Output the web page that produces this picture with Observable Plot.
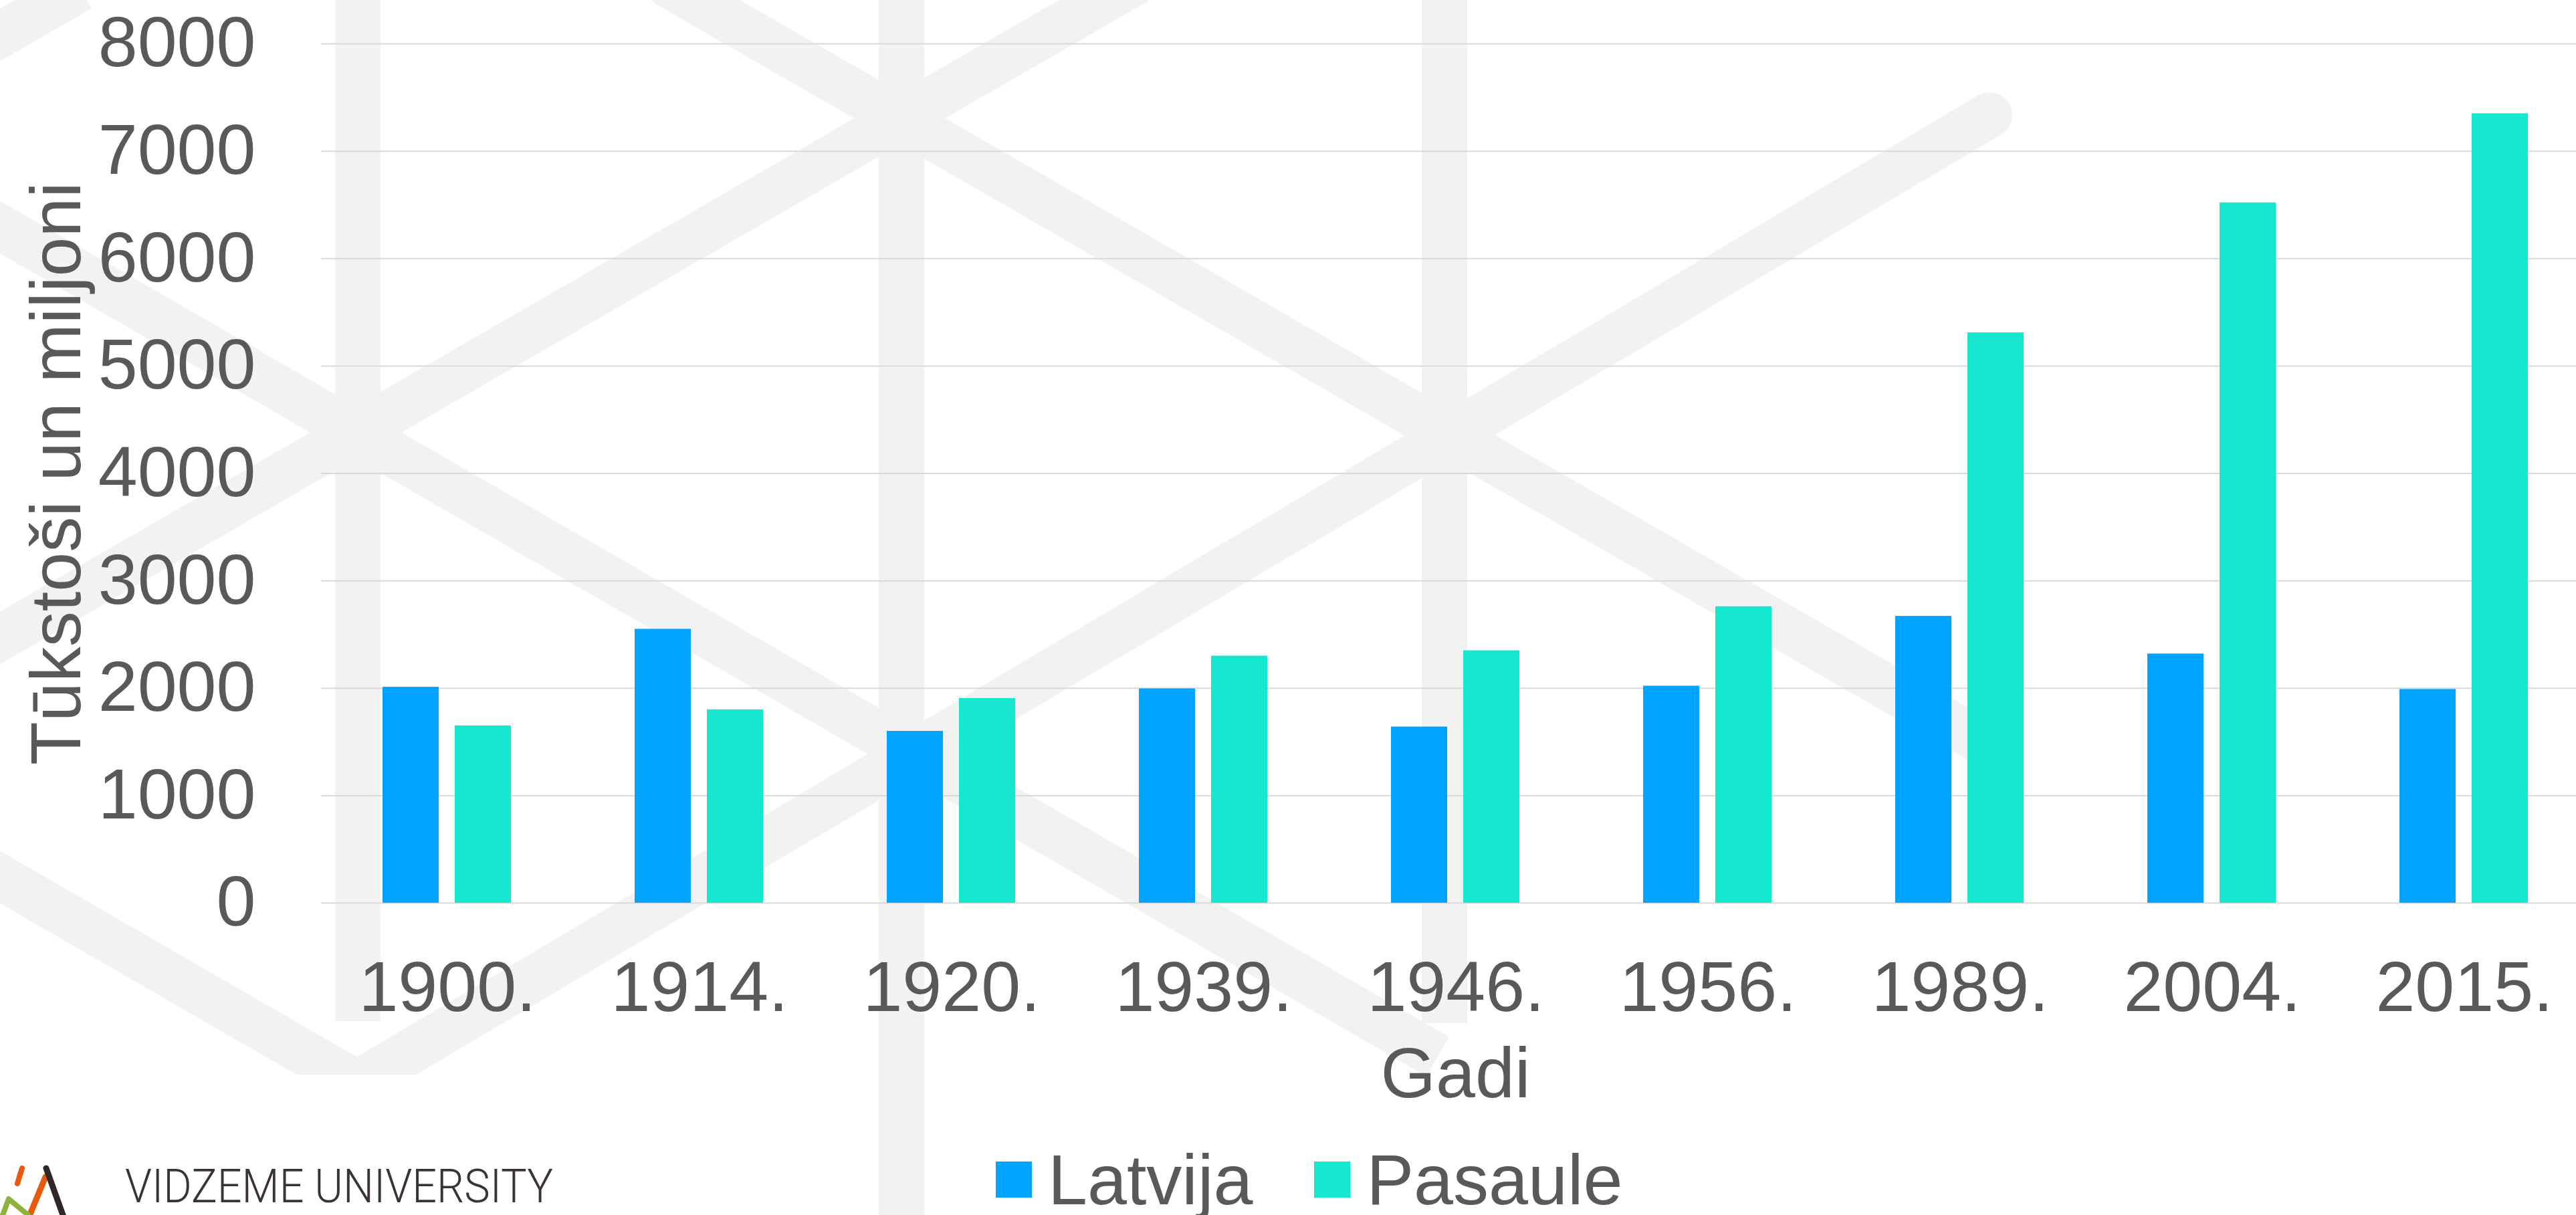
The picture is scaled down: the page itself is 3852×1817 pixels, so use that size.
<!DOCTYPE html>
<html>
<head>
<meta charset="utf-8">
<script src="https://cdn.jsdelivr.net/npm/d3@7"></script>
<script src="https://cdn.jsdelivr.net/npm/@observablehq/plot@0.6"></script>
<style>
  html, body { margin: 0; padding: 0; background: #ffffff; overflow: hidden; }
  body { width: 3852px; height: 1817px; position: relative; }
  #watermark { position: absolute; left: 0; top: 0; z-index: 0; }
  #chart { position: absolute; left: 0; top: 0; z-index: 1; }
  .txt { position: absolute; z-index: 2; font-family: "Liberation Sans", Arial, sans-serif; color: #595959; font-size: 106px; line-height: 106px; white-space: nowrap; }
  #legend { display: flex; align-items: center; height: 106px; }
  #legend .sw { display: inline-block; width: 54px; height: 54px; margin-right: 24px; }
  #legend .item { display: flex; align-items: center; margin-right: 92px; }
  #logo { position: absolute; left: 0; top: 1663px; z-index: 2; }
</style>
</head>
<body>
<!-- decorative background watermark (not chart data) -->
<svg id="watermark" width="3852" height="1817" viewBox="0 0 3852 1817">
  <defs>
    <clipPath id="cutBottom"><rect x="-200" y="-200" width="4200" height="1807"></rect></clipPath>
  </defs>
  <g stroke="#F2F2F2" stroke-width="68" fill="none">
    <path d="M535,-10 V1527"></path>
    <path d="M1348,-10 V1830"></path>
    <path d="M2160,-10 V1530"></path>
    <path d="M-100,110 L120,-17"></path>
    <path d="M1700,-28 L-50,983"></path>
    <path d="M1000,-22 L2975,1116" stroke-linecap="round"></path>
    <path d="M-50,311 L2150,1580"></path>
    <g clip-path="url(#cutBottom)">
      <path d="M2975,172 L534,1620" stroke-linecap="round"></path>
      <path d="M-50,1283 L534,1620"></path>
    </g>
  </g>
</svg>

<div id="chart"></div>
<div class="txt" id="xlabel" style="left:476px; width:3401px; top:1551px; text-align:center;">Gadi</div>
<div class="txt" id="legend" style="left:1489px; top:1711px;"></div>

<svg id="logo" width="900" height="154" viewBox="0 0 900 154">
  <g fill="none" stroke-linecap="round">
    <path d="M33,84 L26,107" stroke="#E8590C" stroke-width="8"></path>
    <path d="M68,97 L40,165" stroke="#E8590C" stroke-width="9"></path>
    <path d="M69,84 L98,165" stroke="#2F2728" stroke-width="9"></path>
    <path d="M0,165 L13,130 L42,154" stroke="#8CB43C" stroke-width="8" stroke-linejoin="round"></path>
  </g>
  <text x="187" y="135" font-family="Roboto, 'DejaVu Sans', sans-serif" font-weight="300" font-size="70" fill="#3A3236" textLength="640" lengthAdjust="spacingAndGlyphs">VIDZEME UNIVERSITY</text>
</svg>

<script>
// ---- data ----
const years = ["1900.", "1914.", "1920.", "1939.", "1946.", "1956.", "1989.", "2004.", "2015."];
const latvija = [2010, 2550, 1600, 1995, 1640, 2020, 2670, 2320, 1990];
const pasaule = [1650, 1800, 1905, 2300, 2350, 2760, 5310, 6520, 7350];
const seriesNames = ["Latvija", "Pasaule"];
const seriesColors = ["#00A3FF", "#16E7CF"];
const yTicks = [0, 1000, 2000, 3000, 4000, 5000, 6000, 7000, 8000];

const rows = years.flatMap((year, i) => [
  {year, series: seriesNames[0], value: latvija[i]},
  {year, series: seriesNames[1], value: pasaule[i]}
]);

const chart = Plot.plot({
  width: 3877,
  height: 1530,
  marginLeft: 476,
  marginRight: 0,
  marginTop: 65,
  marginBottom: 180,
  style: {
    background: "transparent",
    fontFamily: "'Liberation Sans', Arial, sans-serif",
    fontSize: "106px",
    color: "#595959",
    maxWidth: "none",
    overflow: "visible"
  },
  facet: {data: rows, x: "year"},
  fx: {domain: years, padding: 0, axis: "bottom", label: null, tickSize: 0, tickPadding: 86},
  x: {domain: seriesNames, paddingInner: 0.218, paddingOuter: 0.8537, axis: null},
  y: {
    domain: [0, 8000],
    ticks: yTicks,
    tickFormat: d3.format("d"),
    tickSize: 0,
    tickPadding: 98,
    label: "Tūkstoši un miljoni",
    labelAnchor: "center",
    labelOffset: 436,
    labelArrow: "none"
  },
  color: {domain: seriesNames, range: seriesColors},
  marks: [
    Plot.ruleY(yTicks, {stroke: "#D9D9D9", strokeWidth: 2}),
    Plot.barY(rows, {x: "series", y: "value", fill: "series"})
  ]
});
document.getElementById("chart").appendChild(chart);

// legend
const legend = document.getElementById("legend");
seriesNames.forEach((name, i) => {
  const item = document.createElement("span");
  item.className = "item";
  const sw = document.createElement("span");
  sw.className = "sw";
  sw.style.background = seriesColors[i];
  item.appendChild(sw);
  item.appendChild(document.createTextNode(name));
  legend.appendChild(item);
});
</script>
</body>
</html>
